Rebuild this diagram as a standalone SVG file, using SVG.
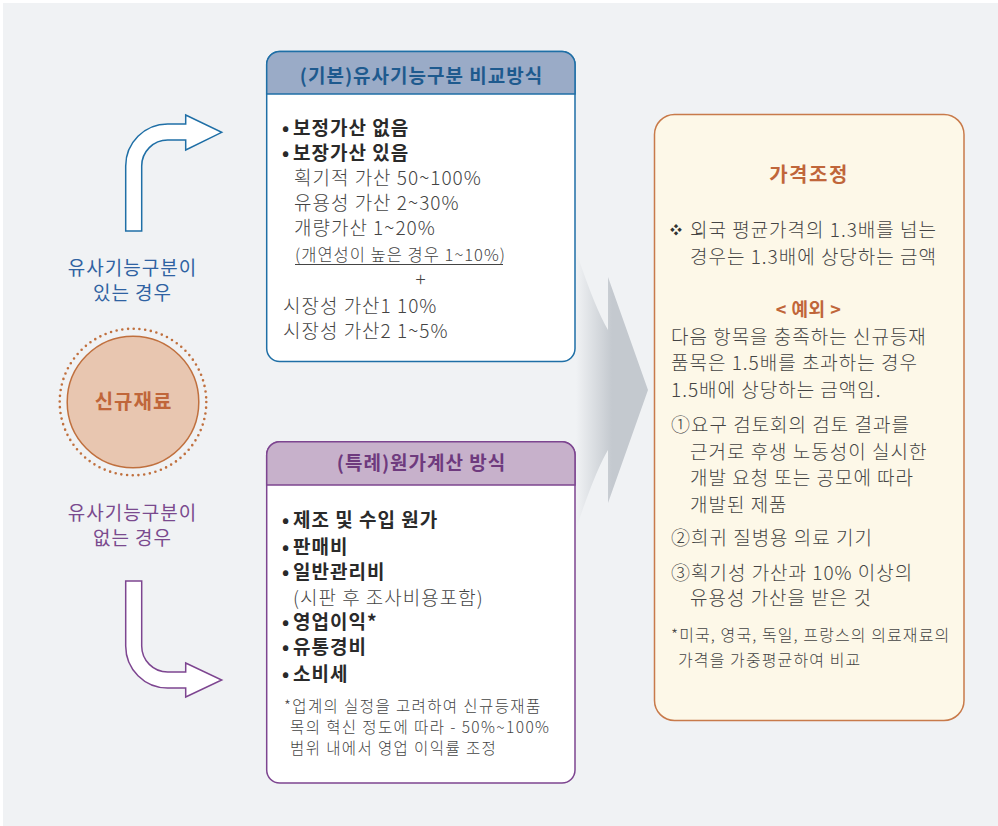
<svg xmlns="http://www.w3.org/2000/svg" width="998" height="826" viewBox="0 0 998 826">
<style>
text{font-family:"Noto Sans CJK KR","Noto Sans",sans-serif;}
.b{font-size:19px;font-weight:bold;fill:#2a2a2a;letter-spacing:1px;}
.r{font-size:19px;fill:#444;font-weight:300;letter-spacing:1px;}
.s{font-size:16px;fill:#444;font-weight:300;letter-spacing:1.1px;}
.f{font-size:15.5px;fill:#444;font-weight:300;letter-spacing:1.4px;}
.u{font-size:16.5px;fill:#444;font-weight:300;letter-spacing:1px;}
.bl{font-size:19px;fill:#2f62a2;text-anchor:middle;letter-spacing:1px;}
.pl{font-size:19px;fill:#7a4a8e;text-anchor:middle;letter-spacing:1px;}
.or{fill:#c0663a;font-weight:bold;text-anchor:middle;}
</style>
<defs>
<linearGradient id="g" gradientUnits="userSpaceOnUse" x1="576" y1="0" x2="612" y2="0">
<stop offset="0" stop-color="#f0f2f4"/>
<stop offset="1" stop-color="#c4c9cf"/>
</linearGradient>
</defs>
<rect x="3" y="3" width="995" height="823" fill="#f0f2f4"/>
<g id="connectors">
<path d="M560,200 Q590,300 608,330 V277 L648,390 L608,503 V450 Q590,480 560,580 Z" fill="url(#g)"/>
<path d="M125.7,231 V166 A42,42 0 0 1 167.7,124 H185.7 V115 L221.7,132.3 L185.7,150 V140 H167.7 A26,26 0 0 0 141.7,166 V231 Z" fill="#fff" stroke="#1f6fa6" stroke-width="1.5"/>
<path d="M125.7,581 H141.7 V646 A26,26 0 0 0 167.7,672 H185.7 V663 L221.7,680 L185.7,697 V688 H167.7 A42,42 0 0 1 125.7,646 Z" fill="#fff" stroke="#7d4590" stroke-width="1.5"/>
</g>
<g id="label-yes">
<text class="bl" x="132.5" y="275">유사기능구분이</text>
<text class="bl" x="132.5" y="300">있는 경우</text>
</g>
<g id="label-no">
<text class="pl" x="132.5" y="520">유사기능구분이</text>
<text class="pl" x="132.5" y="545">없는 경우</text>
</g>
<g id="new-material">
<circle cx="133" cy="402" r="73.3" fill="none" stroke="#c0703e" stroke-width="2.6" stroke-dasharray="0 5.76" stroke-linecap="round"/>
<circle cx="133" cy="402" r="65.8" fill="#e8c6b0" stroke="#c0703e" stroke-width="1.5"/>
<text class="or" x="133.5" y="409" font-size="20" letter-spacing="1">신규재료</text>
</g>
<g id="basic-method">
<rect x="266.7" y="51.5" width="308.3" height="310" rx="13" fill="#fff" stroke="#1f6fa6" stroke-width="1.5"/>
<path d="M266.7,94 V64.5 A13,13 0 0 1 279.7,51.5 H562 A13,13 0 0 1 575,64.5 V94 Z" fill="#9aabc7" stroke="#1f6fa6" stroke-width="1.5"/>
<text x="421.5" y="82.5" font-size="19" font-weight="bold" fill="#1e5a8e" text-anchor="middle" letter-spacing="1">(기본)유사기능구분 비교방식</text>
<text class="b" x="282" y="134.5">•</text><text class="b" x="293" y="134.5">보정가산 없음</text>
<text class="b" x="282" y="159.5">•</text><text class="b" x="293" y="159.5">보장가산 있음</text>
<text class="r" x="294" y="184.5">획기적 가산 50~100%</text>
<text class="r" x="294" y="209.5">유용성 가산 2~30%</text>
<text class="r" x="294" y="234.5">개량가산 1~20%</text>
<text class="u" x="295" y="260.5">(개연성이 높은 경우 1~10%)</text>
<line x1="295" y1="264.5" x2="503" y2="264.5" stroke="#444" stroke-width="1"/>
<text class="r" x="421" y="285.5" text-anchor="middle">+</text>
<text class="r" x="283" y="313">시장성 가산1 10%</text>
<text class="r" x="283" y="338">시장성 가산2 1~5%</text>
</g>
<g id="special-method">
<rect x="266.7" y="441.7" width="308.3" height="341.3" rx="13" fill="#fff" stroke="#7d4590" stroke-width="1.5"/>
<path d="M266.7,485 V454.7 A13,13 0 0 1 279.7,441.7 H562 A13,13 0 0 1 575,454.7 V485 Z" fill="#c7b1cb" stroke="#7d4590" stroke-width="1.5"/>
<text x="421.5" y="470" font-size="19" font-weight="bold" fill="#6e3a7e" text-anchor="middle" letter-spacing="1">(특례)원가계산 방식</text>
<text class="b" x="282" y="526.5">•</text><text class="b" x="293" y="526.5">제조 및 수입 원가</text>
<text class="b" x="282" y="553.5">•</text><text class="b" x="293" y="553.5">판매비</text>
<text class="b" x="282" y="579">•</text><text class="b" x="293" y="579">일반관리비</text>
<text class="r" x="293" y="604.5">(시판 후 조사비용포함)</text>
<text class="b" x="282" y="629">•</text><text class="b" x="293" y="629">영업이익*</text>
<text class="b" x="282" y="654">•</text><text class="b" x="293" y="654">유통경비</text>
<text class="b" x="282" y="681">•</text><text class="b" x="293" y="681">소비세</text>
<text class="f" x="284" y="712">*업계의 실정을 고려하여 신규등재품</text>
<text class="f" x="290" y="733">목의 혁신 정도에 따라 - 50%~100%</text>
<text class="f" x="290" y="754">범위 내에서 영업 이익률 조정</text>
</g>
<g id="price-adjustment">
<rect x="654.5" y="114.5" width="309.5" height="606" rx="20" fill="#fdf8e8" stroke="#c87a4a" stroke-width="1.5"/>
<text class="or" x="809" y="182" font-size="20" letter-spacing="1.5">가격조정</text>
<text x="670" y="235" font-size="12" fill="#333">❖</text>
<text class="r" x="690" y="236.5">외국 평균가격의 1.3배를 넘는</text>
<text class="r" x="690" y="263.5">경우는 1.3배에 상당하는 금액</text>
<text class="or" x="808.5" y="316" font-size="18" letter-spacing="0.5">&lt; 예외 &gt;</text>
<text class="r" x="671" y="343.5">다음 항목을 충족하는 신규등재</text>
<text class="r" x="671" y="369.5">품목은 1.5배를 초과하는 경우</text>
<text class="r" x="671" y="396.5">1.5배에 상당하는 금액임.</text>
<text class="r" x="671" y="431.5">①요구 검토회의 검토 결과를</text>
<text class="r" x="690" y="458.5">근거로 후생 노동성이 실시한</text>
<text class="r" x="690" y="484.5">개발 요청 또는 공모에 따라</text>
<text class="r" x="690" y="511.5">개발된 제품</text>
<text class="r" x="671" y="544.5">②희귀 질병용 의료 기기</text>
<text class="r" x="671" y="579.5">③획기성 가산과 10% 이상의</text>
<text class="r" x="690" y="604.5">유용성 가산을 받은 것</text>
<text class="s" x="671" y="640.5">*미국, 영국, 독일, 프랑스의 의료재료의</text>
<text class="s" x="678" y="665.5">가격을 가중평균하여 비교</text>
</g>
</svg>
